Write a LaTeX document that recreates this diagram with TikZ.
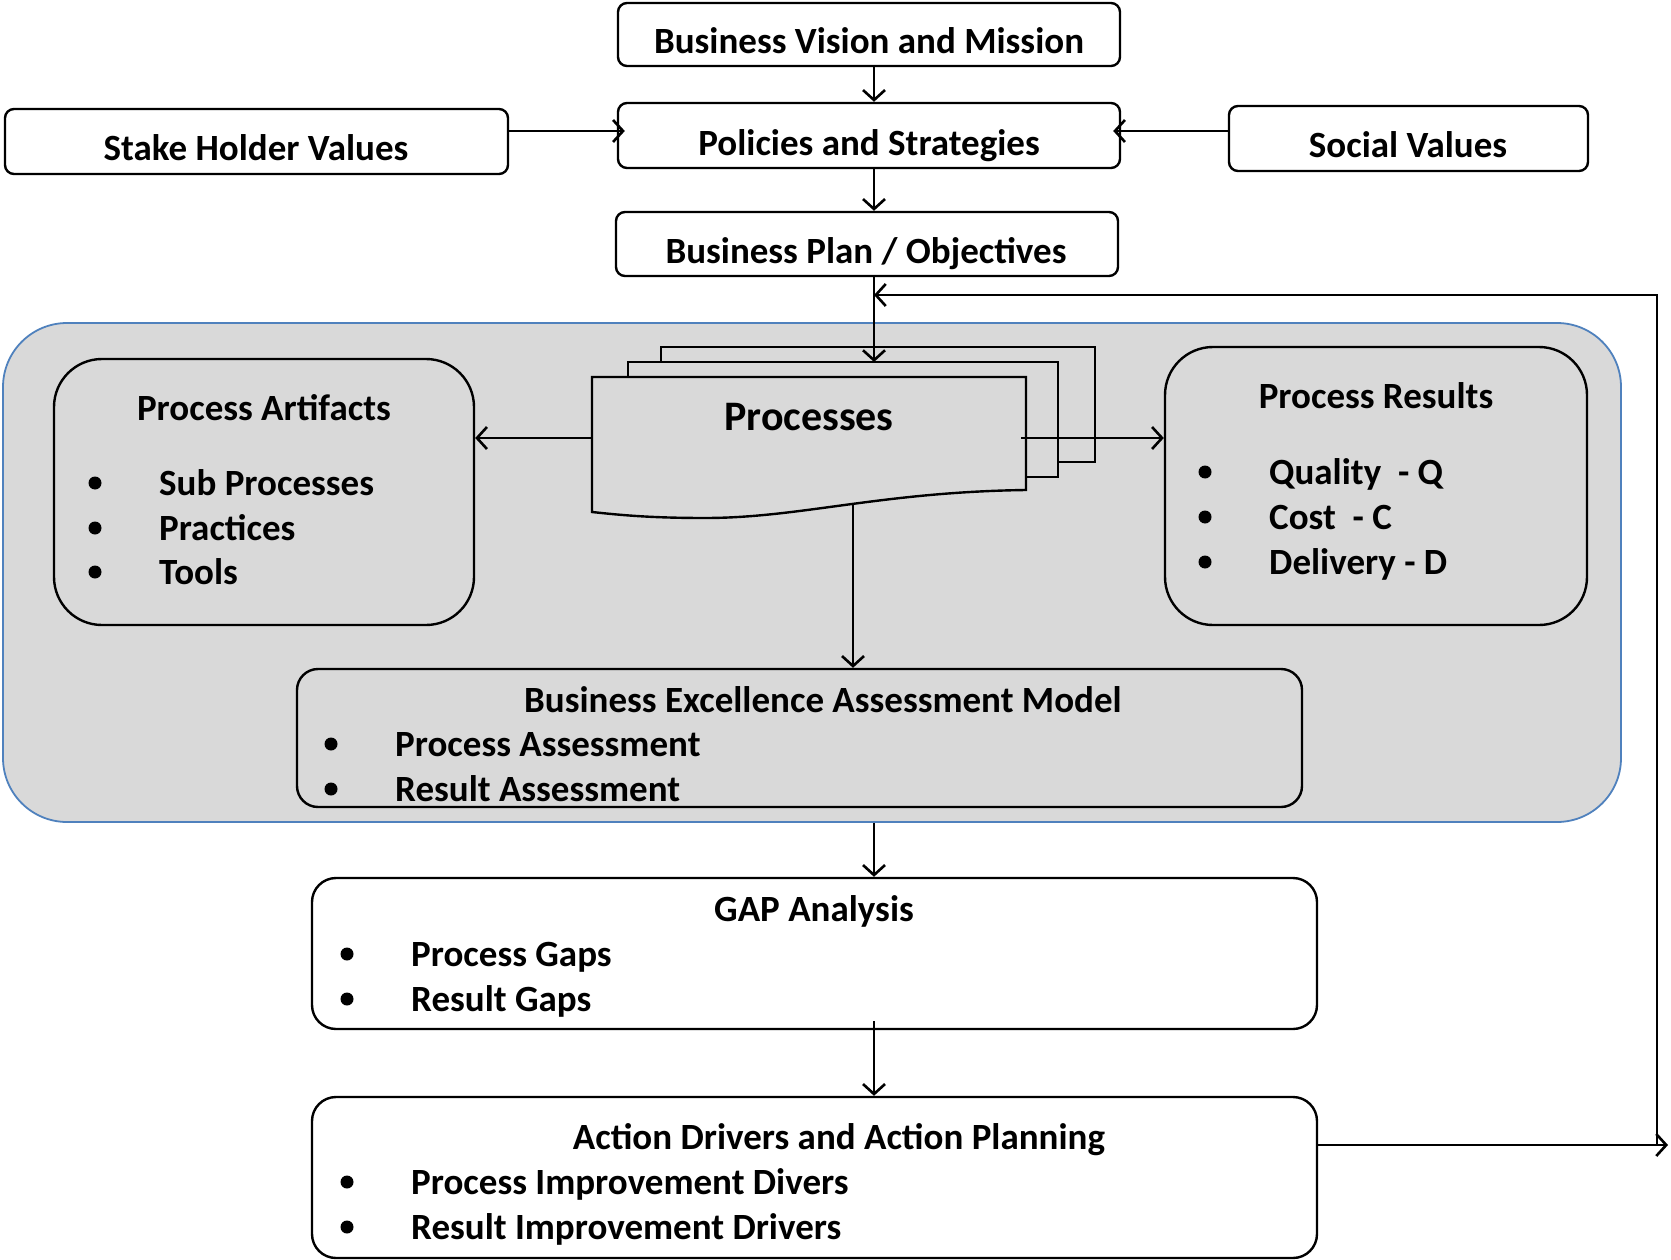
\documentclass[tikz,border=0pt]{standalone}
\usepackage{fontspec}
\setmainfont{Carlito}
\usetikzlibrary{arrows.meta}
\definecolor{panelgray}{HTML}{D9D9D9}
\definecolor{panelblue}{HTML}{4F81BD}
\begin{document}
\begin{tikzpicture}[x=1pt,y=-1pt,
  lbl/.style={font=\fontsize{37}{44}\selectfont\bfseries, inner sep=0pt, anchor=base},
  item/.style={lbl, anchor=base west},
  bigbox/.style={draw, line width=2.4pt, rounded corners=9pt, fill=white, inner sep=0pt},
  roundbox/.style={draw, line width=2.4pt, inner sep=0pt},
  arr/.style={line width=2.6pt, -{Straight Barb[length=10pt,width=22pt]}},
  dot/.style={circle, fill=black, inner sep=0pt, minimum size=13pt}
]
\useasboundingbox (0,0) rectangle (1671,1260);

% ---------- top row of boxes ----------
\node[bigbox, minimum width=502pt, minimum height=63pt] (vision)   at (869,34.5) {};
\node[bigbox, minimum width=502pt, minimum height=65pt] (policies) at (869,135.5) {};
\node[bigbox, minimum width=503pt, minimum height=65pt] (stake)    at (256.5,141.5) {};
\node[bigbox, minimum width=359pt, minimum height=65pt] (social)   at (1408.5,138.5) {};
\node[bigbox, minimum width=502pt, minimum height=64pt] (plan)     at (867,244) {};

\node[lbl] (visiont)   at (869,54)  {Business Vision and Mission};
\node[lbl] (policiest) at (869,156) {Policies and Strategies};
\node[lbl] (staket)    at (256,161) {Stake Holder Values};
\node[lbl] (socialt)   at (1408,158) {Social Values};
\node[lbl] (plant)     at (866,264) {Business Plan / Objectives};

% ---------- grey process panel ----------
\node[draw=panelblue, line width=1.8pt, fill=panelgray, rounded corners=64pt,
      minimum width=1618pt, minimum height=499pt, inner sep=0pt] (core) at (812,572.5) {};

\node[roundbox, rounded corners=48pt, minimum width=420pt, minimum height=266pt] (artifacts) at (264,492) {};
\node[roundbox, rounded corners=48pt, minimum width=422pt, minimum height=278pt] (results)   at (1376,486) {};
\node[roundbox, rounded corners=21pt, minimum width=1005pt, minimum height=138pt] (beam)     at (799.5,738) {};

% stacked document shape
\draw[line width=2.4pt, fill=panelgray] (661,347) rectangle (1095,462);
\draw[line width=2.4pt, fill=panelgray] (628,362) rectangle (1058,477);
\draw[line width=2.4pt, fill=panelgray] (592,377) -- (1026,377) -- (1026,490)
  .. controls (880,492) and (800,518) .. (705,518)
  .. controls (650,518) and (620,515) .. (592,512) -- cycle;
\node[lbl, font=\fontsize{42}{50}\selectfont\bfseries] (proct) at (809,430) {Processes};
\coordinate (ptop)    at (874,362);
\coordinate (pleft)   at (592,438);
\coordinate (pright)  at (1021,438);
\coordinate (pbottom) at (853,503);

% panel texts
\node[lbl] (artt) at (264,420) {Process Artifacts};
\node[dot] (a1) at (95,483) {};
\node[dot] (a2) at (95,528) {};
\node[dot] (a3) at (95,572) {};
\node[item] (a1t) at (159,495) {Sub Processes};
\node[item] (a2t) at (159,540) {Practices};
\node[item] (a3t) at (159,584) {Tools};

\node[lbl] (rest) at (1376,408) {Process Results};
\node[dot] (r1) at (1205,472) {};
\node[dot] (r2) at (1205,517) {};
\node[dot] (r3) at (1205,562) {};
\node[item] (r1t) at (1269,484) {Quality\ \ - Q};
\node[item] (r2t) at (1269,529) {Cost\ \ - C};
\node[item] (r3t) at (1269,574) {Delivery - D};

\node[lbl] (beamt) at (823,712) {Business Excellence Assessment Model};
\node[dot] (b1) at (331,744) {};
\node[dot] (b2) at (331,789) {};
\node[item] (b1t) at (395,756) {Process Assessment};
\node[item] (b2t) at (395,801) {Result Assessment};

% ---------- lower boxes ----------
\node[roundbox, fill=white, rounded corners=24pt, minimum width=1005pt, minimum height=151pt] (gap)    at (814.5,953.5) {};
\node[roundbox, fill=white, rounded corners=24pt, minimum width=1005pt, minimum height=161pt] (action) at (814.5,1177.5) {};

\node[lbl] (gapt) at (814,921) {GAP Analysis};
\node[dot] (g1) at (347,954) {};
\node[dot] (g2) at (347,999) {};
\node[item] (g1t) at (411,966) {Process Gaps};
\node[item] (g2t) at (411,1011) {Result Gaps};

\node[lbl] (actiont) at (839,1149) {Action Drivers and Action Planning};
\node[dot] (c1) at (347,1182) {};
\node[dot] (c2) at (347,1227) {};
\node[item] (c1t) at (411,1194) {Process Improvement Divers};
\node[item] (c2t) at (411,1239) {Result Improvement Drivers};

% ---------- connectors ----------
\coordinate (ax)  at (874,0);
\coordinate (ay)  at (0,131);
\coordinate (fbin)  at (874,295);
\coordinate (fbcorner) at (1657,1145);
\coordinate (fbend) at (1668,1145);

\draw[arr] (vision.south -| ax) -- (policies.north -| ax);
\draw[arr] (policies.south -| ax) -- (plan.north -| ax);
\draw[arr] (stake.east |- ay) -- ([xshift=8pt]policies.west |- ay);
\draw[arr] (social.west |- ay) -- ([xshift=-8pt]policies.east |- ay);
\draw[arr] (plan.south -| ax) -- (ptop);
\draw[arr] (pleft) -- (artifacts.east |- pleft);
\draw[arr] (pright) -- (results.west |- pright);
\draw[arr] (pbottom) -- (beam.north -| pbottom);
\draw[arr] (core.south -| ax) -- (gap.north -| ax);
\draw[arr] ([yshift=9pt]gap.south -| ax) -- (action.north -| ax);
\draw[arr] (action.east |- fbend) -- (fbend);
\draw[arr] (fbcorner) |- (fbin);
\end{tikzpicture}
\end{document}
